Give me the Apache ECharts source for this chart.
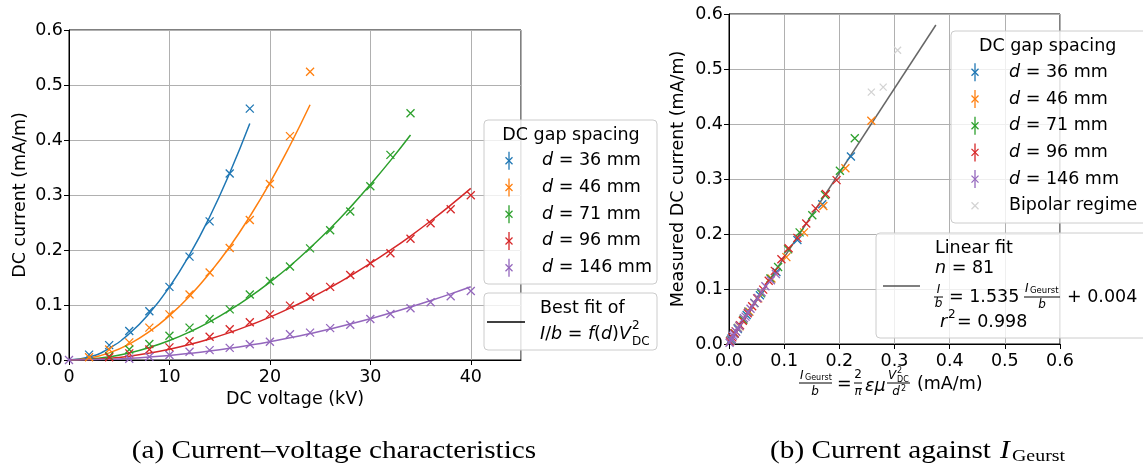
<!DOCTYPE html>
<html><head><meta charset="utf-8">
<script src="https://cdn.jsdelivr.net/npm/echarts@6/dist/echarts.min.js"></script>
<style>html,body{margin:0;padding:0;background:#fff}#c{width:1143px;height:465px}</style>
</head><body><div id="c"></div>
<script>
// ---------- data: (a) current-voltage ----------
const names = ['d = 36 mm','d = 46 mm','d = 71 mm','d = 96 mm','d = 146 mm'];
const colors = ['#1f77b4','#ff7f0e','#2ca02c','#d62728','#9467bd'];
const V36 = [2,4,6,8,10,12,14,16,18];
const I36 = [0.0097,0.027,0.0527,0.0885,0.133,0.188,0.252,0.339,0.457];
const V46 = [2,4,6,8,10,12,14,16,18,20,22,24];
const I46 = [0.005,0.019,0.032,0.0588,0.083,0.119,0.159,0.2036,0.2545,0.320,0.407,0.524];
const V71 = [4,6,8,10,12,14,16,18,20,22,24,26,28,30,32,34];
const I71 = [0.007,0.019,0.029,0.044,0.0588,0.0745,0.092,0.119,0.1436,0.170,0.203,0.236,0.270,0.316,0.373,0.4485];
const V96 = [4,6,8,10,12,14,16,18,20,22,24,26,28,30,32,34,36,38,40];
const I96 = [0.005,0.012,0.019,0.023,0.034,0.0424,0.0558,0.0685,0.083,0.0988,0.115,0.133,0.1545,0.176,0.194,0.2206,0.2485,0.274,0.2994];
const V146 = [0,6,8,10,12,14,16,18,20,22,24,26,28,30,32,34,36,38,40];
const I146 = [0,0.0024,0.006,0.009,0.015,0.018,0.022,0.0285,0.0333,0.0467,0.0497,0.058,0.0642,0.0745,0.0836,0.094,0.105,0.116,0.1255];
// best-fit curves
const VFit = [0,2,4,6,8,10,12,14,16,18,20,22,24,26,28,30,32,34,36,38,40];
const Fit36 = [0,0.0053,0.0212,0.0478,0.085,0.1328,0.191,0.260,0.340,0.430];
const Fit46 = [0,0.0032,0.0129,0.029,0.0516,0.0806,0.116,0.158,0.206,0.261,0.322,0.390,0.464];
const Fit71 = [0,0.0014,0.0057,0.0127,0.0227,0.0354,0.051,0.0694,0.0906,0.1147,0.1416,0.171,0.204,0.239,0.2775,0.319,0.3625,0.409];
const Fit96 = [0,0.0008,0.0031,0.007,0.0125,0.0195,0.0281,0.0382,0.0499,0.0632,0.078,0.0944,0.1123,0.1318,0.1529,0.1755,0.1997,0.2254,0.2527,0.2816,0.312];
const Fit146 = [0,0.0003,0.0013,0.003,0.0053,0.0083,0.012,0.0163,0.0213,0.027,0.0333,0.0403,0.048,0.0563,0.0653,0.075,0.0853,0.0963,0.108,0.1203,0.1333];
// ---------- data: (b) current against I_Geurst ----------
const G36x = [0.004,0.016,0.032,0.056,0.086,0.124,0.169,0.221];
const G36y = [0.0097,0.027,0.0527,0.0885,0.131,0.189,0.254,0.341];
const G46x = [0.002,0.010,0.019,0.037,0.053,0.077,0.104,0.136,0.171,0.211,0.258];
const G46y = [0.005,0.019,0.032,0.0588,0.083,0.119,0.158,0.203,0.251,0.3195,0.406];
const G71x = [0.003,0.010,0.016,0.026,0.035,0.046,0.058,0.075,0.089,0.107,0.128,0.151,0.174,0.201,0.228];
const G71y = [0.007,0.019,0.029,0.044,0.0588,0.0745,0.092,0.119,0.140,0.172,0.203,0.234,0.271,0.315,0.374];
const G96x = [0.002,0.006,0.010,0.012,0.020,0.025,0.034,0.042,0.051,0.062,0.072,0.083,0.095,0.108,0.124,0.140,0.157,0.1755,0.195];
const G96y = [0.005,0.012,0.019,0.023,0.034,0.0424,0.0558,0.0685,0.083,0.0988,0.115,0.133,0.154,0.174,0.193,0.219,0.2466,0.2727,0.298];
const G146x = [0.001,0.003,0.005,0.007,0.009,0.013,0.016,0.019,0.027,0.030,0.035,0.039,0.046,0.052,0.059,0.066,0.076,0.085];
const G146y = [0.0024,0.006,0.009,0.015,0.018,0.022,0.0285,0.0333,0.0467,0.0497,0.058,0.0642,0.0745,0.0836,0.094,0.105,0.116,0.127];
const GBx = [0.258,0.2795,0.3056];
const GBy = [0.458,0.467,0.534];
const LinFitX = [0,0.375];
const LinFitY = [0.004,0.58];

const zip = (a,b) => a.map((v,i)=>[v,b[i]]);
const FONT = 'DejaVu Sans';
const FS = 17.5;
const X_SYM = 'path://M0,0L10,10M10,0L0,10';

const leftPts = [[V36,I36],[V46,I46],[V71,I71],[V96,I96],[V146,I146]];
const leftFit = [Fit36,Fit46,Fit71,Fit96,Fit146];
const rightPts = [[G36x,G36y],[G46x,G46y],[G71x,G71y],[G96x,G96y],[G146x,G146y]];

function axisCommon(margin){
  return {
    axisLine:{show:true,onZero:false,lineStyle:{color:'#000',width:1}},
    axisTick:{show:true,inside:false,length:5,lineStyle:{color:'#000',width:1}},
    axisLabel:{color:'#000',fontFamily:FONT,fontSize:FS,margin:margin},
    splitLine:{show:true,lineStyle:{color:'#b0b0b0',width:1}},
    nameTextStyle:{color:'#000',fontFamily:FONT,fontSize:FS}
  };
}
function scatterSeries(pts,c,xi,name,sz){
  return {type:'scatter',name,xAxisIndex:xi,yAxisIndex:xi,data:zip(pts[0],pts[1]),
    symbol:X_SYM,symbolSize:sz||8,
    itemStyle:{color:'rgba(0,0,0,0)',borderColor:c,borderWidth:1.3,opacity:1},
    emphasis:{disabled:true},z:3,animation:false};
}
const series = [];
for(let k=0;k<5;k++){
  series.push({type:'line',name:'fit'+k,xAxisIndex:0,yAxisIndex:0,
    data:zip(VFit.slice(0,leftFit[k].length),leftFit[k]),
    showSymbol:false,smooth:true,lineStyle:{color:colors[k],width:1.5},z:2,animation:false});
  series.push(scatterSeries(leftPts[k],colors[k],0,names[k]));
}
series.push({type:'line',name:'linfit',xAxisIndex:1,yAxisIndex:1,data:zip(LinFitX,LinFitY),
  showSymbol:false,lineStyle:{color:'#555555',width:1.5,opacity:0.9},z:2,animation:false});
for(let k=0;k<5;k++) series.push(scatterSeries(rightPts[k],colors[k],1,names[k]));
series.push(scatterSeries([GBx,GBy],'#d3d3d3',1,'Bipolar regime',7));

// ---------- graphic: legends, labels, captions ----------
const G = [];
function txt(x,y,text,o){
  o=o||{};
  G.push({type:'text',x,y,z:110,scaleX:o.sx||1,style:{text,fontFamily:o.ff||FONT,fontSize:o.fs||FS,
    fontStyle:o.it?'italic':'normal',fill:o.fill||'#000',align:o.al||'left',verticalAlign:o.va||'middle',
    textAlign:o.al||'left',textVerticalAlign:o.va||'middle',rich:o.rich}});
}
function line(x1,y1,x2,y2,c,w){
  G.push({type:'line',z:110,shape:{x1,y1,x2,y2},style:{stroke:c,lineWidth:w||1}});
}
function box(x,y,w,h){
  G.push({type:'rect',z:105,shape:{x,y,width:w,height:h,r:4},style:{fill:'rgba(255,255,255,0.8)',stroke:'#cccccc',lineWidth:1}});
}
function icon(cx,cy,c,err){
  if(err) line(cx,cy-9,cx,cy+9,c,1.3);
  line(cx-3.5,cy-3.5,cx+3.5,cy+3.5,c,1.3);
  line(cx-3.5,cy+3.5,cx+3.5,cy-3.5,c,1.3);
}
const rich = {i:{fontStyle:'italic',fontFamily:FONT,fontSize:FS}, n:{fontFamily:FONT,fontSize:FS}};
function dlabel(name){ return '{i|d}{n|'+name.slice(1)+'}'; }

// left legend 1
box(484,120,173,164);
txt(571,135,'DC gap spacing',{al:'center'});
for(let k=0;k<5;k++){
  const y = 160.7+26.75*k;
  icon(509,y,colors[k],true);
  txt(542,y,dlabel(names[k]),{rich});
}
// left legend 2
box(484,293,173,57);
line(487,322,525,322,'#000',1.5);
txt(540,308,'Best fit of');
txt(540,334,'{i|I}{n|/}{i|b}{n| = }{i|f}{n|(}{i|d}{n|)}{i|V}',{rich});
txt(632,326,'2',{fs:12});
txt(632,342,'DC',{fs:12});

// right legend 1
box(951,31,210,192);
txt(979,46,'DC gap spacing');
for(let k=0;k<5;k++){
  const y = 72.3+26.7*k;
  icon(975,y,colors[k],true);
  txt(1009,y,dlabel(names[k]),{rich});
}
icon(975,205.7,'#d3d3d3',false);
txt(1009,205.7,'Bipolar regime');

// right legend 2
box(876,233,290,105);
line(883,286,920,286,'#555555',1.5);
txt(935,248,'Linear fit');
txt(935,268,'{i|n}{n| = 81}',{rich});
txt(938.5,290,'I',{fs:12,it:true,al:'center'});
line(934,297,943,297,'#000',1);
txt(938.5,304,'b',{fs:12,it:true,al:'center'});
txt(949,297,'= 1.535');
txt(1025,289,'I',{fs:12,it:true});
txt(1030,291,'Geurst',{fs:8.5});
line(1024,297,1060,297,'#000',1);
txt(1042,305,'b',{fs:12,it:true,al:'center'});
txt(1067,297,'+ 0.004');
txt(940,322,'{i|r}',{rich});
txt(948,315,'2',{fs:12});
txt(957,322,'= 0.998');

// right x-axis label (math)
txt(800,376,'I',{fs:12,it:true});
txt(805,378,'Geurst',{fs:8});
line(799,383,832,383,'#000',1);
txt(815,392,'b',{fs:12,it:true,al:'center'});
txt(837,384,'=');
txt(858,375,'2',{fs:12,al:'center'});
line(854,383,862,383,'#000',1);
txt(858,392,'π',{fs:12,it:true,al:'center'});
txt(865,386,'εμ',{it:true});
txt(888,376,'V',{fs:12,it:true});
txt(897,371,'2',{fs:8});
txt(897,380,'DC',{fs:8});
line(887,383,910,383,'#000',1);
txt(896,392,'d',{fs:12,it:true,al:'center'});
txt(901,389,'2',{fs:8});
txt(917,384,'(mA/m)');

// captions
const SERIF = 'Liberation Serif';
txt(334,451,'(a) Current–voltage characteristics',{ff:SERIF,fs:25,al:'center',sx:1.17});
txt(991,451,'(b) Current against',{ff:SERIF,fs:25,al:'right',sx:1.17});
txt(1000,451,'I',{ff:SERIF,fs:25,it:true,sx:1.17});
txt(1012,457,'Geurst',{ff:SERIF,fs:17,sx:1.17});

const chart = echarts.init(document.getElementById('c'),null,{renderer:'canvas'});
chart.setOption({
  animation:false,
  backgroundColor:'#fff',
  grid:[
    {left:69,top:30,width:452,height:330,show:true,borderColor:'#000',borderWidth:1,backgroundColor:'transparent'},
    {left:729,top:14,width:331,height:330,show:true,borderColor:'#000',borderWidth:1,backgroundColor:'transparent'}
  ],
  xAxis:[
    Object.assign(axisCommon(8),{type:'value',gridIndex:0,min:0,max:45,interval:10,
      name:'DC voltage (kV)',nameLocation:'middle',nameGap:29,
      axisLabel:{color:'#000',fontFamily:FONT,fontSize:FS,margin:8,showMaxLabel:false}}),
    Object.assign(axisCommon(8),{type:'value',gridIndex:1,min:0,max:0.6,interval:0.1,
      axisLabel:{color:'#000',fontFamily:FONT,fontSize:FS,margin:8,formatter:v=>v.toFixed(1)}})
  ],
  yAxis:[
    Object.assign(axisCommon(6),{type:'value',gridIndex:0,min:0,max:0.6,interval:0.1,
      name:'DC current (mA/m)',nameLocation:'middle',nameGap:40,nameRotate:90,
      axisLabel:{color:'#000',fontFamily:FONT,fontSize:FS,margin:6,formatter:v=>v.toFixed(1)}}),
    Object.assign(axisCommon(6),{type:'value',gridIndex:1,min:0,max:0.6,interval:0.1,
      name:'Measured DC current (mA/m)',nameLocation:'middle',nameGap:42,nameRotate:90,
      axisLabel:{color:'#000',fontFamily:FONT,fontSize:FS,margin:6,formatter:v=>v.toFixed(1)}})
  ],
  series,
  graphic:G
});
</script></body></html>
